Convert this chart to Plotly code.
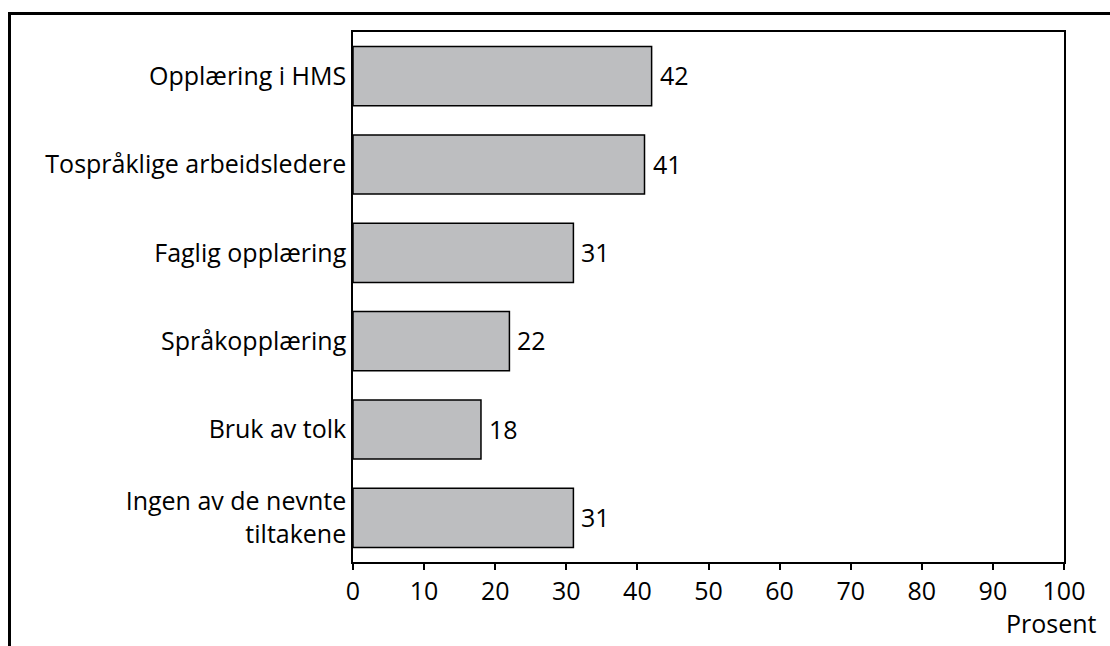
import plotly.graph_objects as go

categories = ["Opplæring i HMS", "Tospråklige arbeidsledere", "Faglig opplæring",
              "Språkopplæring", "Bruk av tolk", "Ingen av de nevnte<br>tiltakene"]
values = [42, 41, 31, 22, 18, 31]
x_ticks = [0, 10, 20, 30, 40, 50, 60, 70, 80, 90, 100]

FONT = "Open Sans"
FS = 25
W, H = 1110, 646
L, R, T, B = 353, 46, 32, 84
pw, ph = W - L - R, H - T - B

fig = go.Figure()
fig.add_trace(go.Bar(
    y=categories, x=values, orientation="h",
    marker=dict(color="#bdbec0", line=dict(color="black", width=1.5)),
    hoverinfo="skip",
))

for c, v in zip(categories, values):
    fig.add_annotation(x=v, y=c, text=str(v), showarrow=False, xanchor="left",
                       xshift=6, yshift=1, font=dict(family=FONT, size=FS, color="black"))

fig.add_annotation(xref="paper", yref="paper", x=1, y=0, text="Prosent", showarrow=False,
                   xanchor="right", yanchor="top", xshift=35, yshift=-42,
                   font=dict(family=FONT, size=FS, color="black"))

def px2x(p):
    return (p - L) / pw

def py2y(p):
    return (H - B - p) / ph

# outer frame: top and left lines
fig.add_shape(type="line", xref="paper", yref="paper", x0=px2x(8), x1=px2x(W + 5),
              y0=py2y(13.5), y1=py2y(13.5), line=dict(color="black", width=3))
fig.add_shape(type="line", xref="paper", yref="paper", x0=px2x(9.5), x1=px2x(9.5),
              y0=py2y(12), y1=py2y(H + 5), line=dict(color="black", width=3))

fig.update_layout(
    width=W, height=H,
    margin=dict(l=L, r=R, t=T, b=B),
    paper_bgcolor="white", plot_bgcolor="white",
    bargap=0.33, showlegend=False,
    font=dict(family=FONT, size=FS, color="black"),
    xaxis=dict(range=[0, 100], tickvals=x_ticks, ticks="outside", ticklen=6,
               tickwidth=1.5, tickcolor="black", showgrid=False, zeroline=False,
               showline=True, linecolor="black", linewidth=1.5, mirror=True,
               ticklabelstandoff=0,
               tickfont=dict(family=FONT, size=FS, color="black"), fixedrange=True),
    yaxis=dict(autorange="reversed", showgrid=False, zeroline=False, ticks="",
               showline=True, linecolor="black", linewidth=1.5, mirror=True,
               ticklabelstandoff=0,
               tickfont=dict(family=FONT, size=FS, color="black"), fixedrange=True),
)

fig.write_html("out.html")
